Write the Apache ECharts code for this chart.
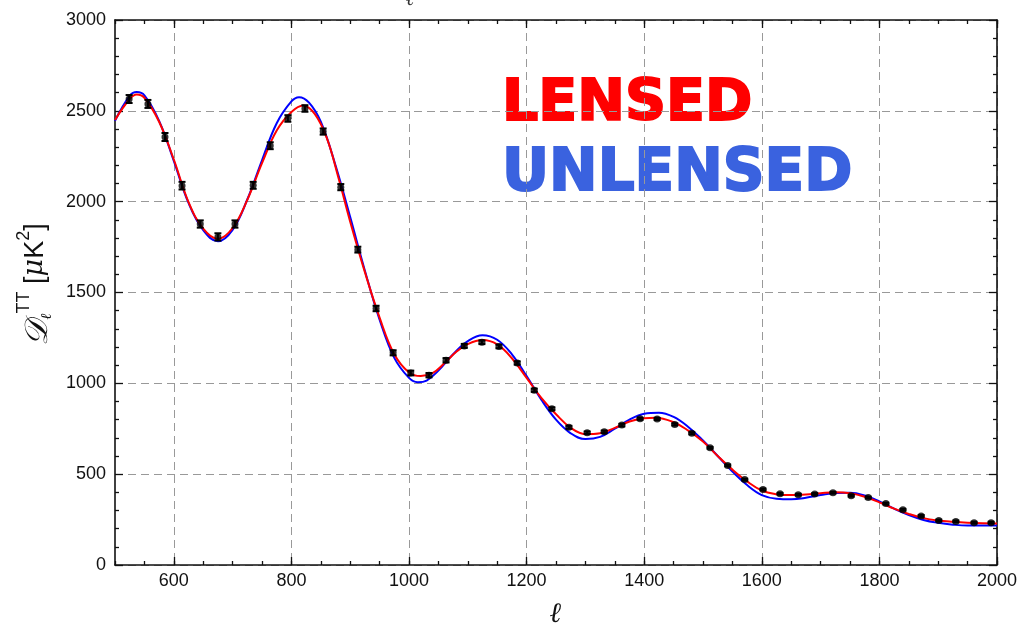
<!DOCTYPE html>
<html>
<head>
<meta charset="utf-8">
<script src="https://cdn.jsdelivr.net/npm/echarts@6/dist/echarts.min.js"></script>
<style>html,body{margin:0;padding:0;background:#fff;}#c{width:1018px;height:628px;}</style>
</head>
<body>
<div id="c"></div>
<script>
// ---- data ----
var xTickLabels = [600, 800, 1000, 1200, 1400, 1600, 1800, 2000];
var yTickLabels = [0, 500, 1000, 1500, 2000, 2500, 3000];

// lensed model curve (red)
var lensedL = [500,525,537,550,575,600,625,650,675,700,725,750,775,800,820,840,860,880,900,925,950,975,1000,1020,1040,1060,1080,1100,1125,1150,1175,1200,1225,1250,1275,1300,1325,1350,1375,1400,1420,1450,1475,1500,1525,1550,1575,1600,1625,1650,1675,1700,1725,1750,1775,1800,1825,1850,1875,1900,1925,1950,1975,2000];
var lensedD = [2450,2565,2590,2572,2440,2232,1998,1852,1795,1855,2010,2212,2392,2494,2530,2482,2352,2132,1890,1612,1362,1160,1060,1040,1056,1110,1172,1216,1238,1214,1138,1030,920,830,755,720,725,755,790,808,811,786,740,680,600,525,460,410,390,385,388,395,400,395,376,345,310,281,258,245,238,233,230,229];

// unlensed model curve (blue)
var unlensedL = [500,525,537,550,575,600,625,650,675,700,725,750,775,800,813,830,850,875,900,925,950,975,1000,1015,1030,1050,1075,1100,1125,1150,1175,1200,1225,1250,1275,1300,1325,1350,1375,1400,1425,1450,1475,1500,1525,1550,1575,1600,1625,1650,1675,1700,1725,1750,1775,1800,1825,1850,1875,1900,1925,1950,1975,2000];
var unlensedD = [2445,2582,2603,2585,2445,2225,1993,1843,1782,1845,2012,2228,2432,2552,2575,2545,2440,2200,1915,1620,1350,1140,1030,1006,1015,1070,1160,1232,1265,1240,1160,1040,910,800,725,693,705,750,800,832,838,815,760,685,600,515,440,385,365,362,370,385,397,398,383,350,310,275,248,232,222,217,217,218];

// binned data points
var dataL = [524,556,585,614,645,675,704,735,764,794,823,854,884,913,944,973,1003,1034,1063,1094,1124,1153,1184,1213,1243,1272,1303,1332,1362,1393,1422,1452,1481,1512,1542,1571,1602,1631,1662,1690,1721,1752,1781,1811,1840,1871,1901,1930,1961,1990];
var dataD = [2565,2538,2356,2088,1877,1806,1877,2090,2308,2458,2513,2386,2080,1736,1412,1168,1057,1045,1127,1206,1226,1203,1112,962,860,758,728,733,770,805,804,774,725,645,548,470,416,392,387,391,398,381,371,338,304,270,245,240,233,233];
var dataErr = [22,22,22,21,20,20,20,19,19,18,18,17,17,16,15,14,13,12,12,11,10,10,9,9,8,8,7,7,7,6,6,6,6,5,5,5,5,5,5,5,5,5,5,5,5,5,5,5,5,5];

// ---- build ----
function pairs(a, b) { var r = []; for (var i = 0; i < a.length; i++) r.push([a[i], b[i]]); return r; }
var errData = []; for (var i = 0; i < dataL.length; i++) errData.push([dataL[i], dataD[i], dataErr[i]]);

var chart = echarts.init(document.getElementById('c'), null, {renderer: 'canvas'});
var LBL = {fontFamily: 'Liberation Sans, Arial, sans-serif', fontSize: 18, color: '#111'};
var plain = function (v) { return String(v); };
var gridLine = {show: true, lineStyle: {color: '#999', type: [8, 5], width: 1}};
var frame = {show: true, lineStyle: {color: '#111', width: 1.6}};

function xAx(pos, major, showLine, labels, split) {
  var a = {
    type: 'value', position: pos, min: 500, max: 2000, interval: 50,
    axisLine: showLine ? frame : {show: false},
    axisTick: {show: true, inside: true, length: major ? 8 : 4, lineStyle: {color: '#111', width: 1.3}},
    axisLabel: {show: false},
    splitLine: split ? gridLine : {show: false}
  };
  if (major) a.axisTick.customValues = xTickLabels;
  if (labels) {
    a.axisLabel = {show: true, customValues: xTickLabels, formatter: plain, margin: 7, fontFamily: LBL.fontFamily, fontSize: LBL.fontSize, color: LBL.color};
    a.name = 'ℓ'; a.nameLocation = 'middle'; a.nameGap = 36;
    a.nameTextStyle = {fontFamily: 'DejaVu Serif, serif', fontStyle: 'italic', fontWeight: 'bold', fontSize: 28, color: '#111'};
  }
  return a;
}

function yAx(pos, labels) {
  var a = {
    type: 'value', position: pos, min: 0, max: 3000, interval: 500,
    axisLine: frame,
    axisTick: {show: true, inside: true, length: 8, lineStyle: {color: '#111', width: 1.3}},
    minorTick: {show: true, splitNumber: 5, length: 4, lineStyle: {color: '#111', width: 1.3}},
    axisLabel: {show: labels, formatter: plain, margin: 9, fontFamily: LBL.fontFamily, fontSize: LBL.fontSize, color: LBL.color},
    splitLine: labels ? gridLine : {show: false}
  };
  if (labels) {
    a.name = '{d|𝒟}{sub|ℓ}{sup|TT}{n|\u00a0[}{mu|μ}{n|K}{sup|2}{n|]}';
    a.nameLocation = 'middle'; a.nameGap = 56; a.nameRotate = 90;
    a.nameTextStyle = {
      color: '#111',
      padding: [0, 0, 0, 16],
      rich: {
        d: {fontFamily: 'DejaVu Serif, serif', fontStyle: 'italic', fontSize: 32, color: '#111', lineHeight: 40, verticalAlign: 'bottom'},
        sub: {fontFamily: 'DejaVu Serif, serif', fontStyle: 'italic', fontSize: 15, color: '#111', lineHeight: 40, verticalAlign: 'bottom'},
        sup: {fontFamily: 'Liberation Sans, Arial, sans-serif', fontSize: 18, color: '#111', lineHeight: 40, verticalAlign: 'top'},
        n: {fontFamily: 'Liberation Sans, Arial, sans-serif', fontSize: 27, color: '#111', lineHeight: 40},
        mu: {fontFamily: 'DejaVu Serif, serif', fontStyle: 'italic', fontSize: 27, color: '#111', lineHeight: 40}
      }
    };
  }
  return a;
}

var option = {
  animation: false,
  backgroundColor: '#fff',
  grid: {left: 115, right: 21, top: 20, bottom: 63, containLabel: false, outerBoundsMode: 'none'},
  xAxis: [
    xAx('bottom', false, true, true, false),
    xAx('bottom', true, false, false, true),
    xAx('top', false, true, false, false),
    xAx('top', true, false, false, false)
  ],
  yAxis: [yAx('left', true), yAx('right', false)],
  graphic: [
    {type: 'text', x: 502, y: 105, style: {text: 'LENSED', fill: '#ff0000', stroke: '#ff0000', lineWidth: 2, font: 'bold 57px "DejaVu Sans", sans-serif', textVerticalAlign: 'middle'}},
    {type: 'text', x: 502, y: 175, style: {text: 'UNLENSED', fill: '#3a62df', stroke: '#3a62df', lineWidth: 2, font: 'bold 58px "DejaVu Sans", sans-serif', textVerticalAlign: 'middle'}},
    {type: 'text', x: 410, y: -10, style: {text: 'ℓ', fill: '#333', font: 'italic 20px "DejaVu Serif", serif', textAlign: 'center'}}
  ],
  series: [
    {type: 'line', name: 'unlensed', xAxisIndex: 0, yAxisIndex: 0, data: pairs(unlensedL, unlensedD), smooth: 0.4, showSymbol: false, lineStyle: {color: '#0000ff', width: 2}, z: 2},
    {type: 'line', name: 'lensed', xAxisIndex: 0, yAxisIndex: 0, data: pairs(lensedL, lensedD), smooth: 0.4, showSymbol: false, lineStyle: {color: '#ff0000', width: 2}, z: 3},
    {type: 'custom', name: 'err', xAxisIndex: 0, yAxisIndex: 0, data: errData, encode: {x: 0, y: 1}, z: 4,
      renderItem: function (params, api) {
        var x = api.value(0), y = api.value(1), e = api.value(2);
        var hi = api.coord([x, y + e]), lo = api.coord([x, y - e]);
        var w = 3.5;
        var st = {stroke: '#000', lineWidth: 2};
        return {type: 'group', children: [
          {type: 'line', shape: {x1: hi[0], y1: hi[1], x2: lo[0], y2: lo[1]}, style: st},
          {type: 'line', shape: {x1: hi[0] - w, y1: hi[1], x2: hi[0] + w, y2: hi[1]}, style: st},
          {type: 'line', shape: {x1: lo[0] - w, y1: lo[1], x2: lo[0] + w, y2: lo[1]}, style: st}
        ]};
      }
    },
    {type: 'scatter', name: 'data', xAxisIndex: 0, yAxisIndex: 0, data: pairs(dataL, dataD), symbol: 'circle', symbolSize: 7, itemStyle: {color: '#000'}, z: 5}
  ]
};
chart.setOption(option);
</script>
</body>
</html>
